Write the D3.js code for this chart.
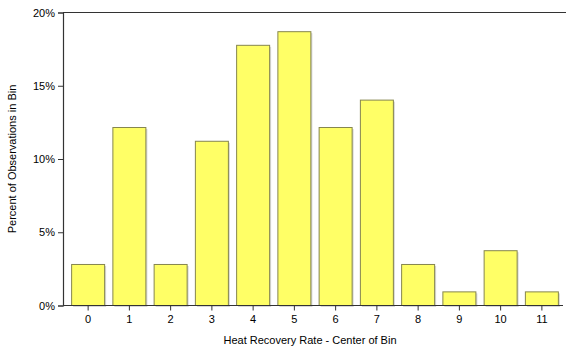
<!DOCTYPE html>
<html>
<head>
<meta charset="utf-8">
<script src="https://cdn.jsdelivr.net/npm/d3@7"></script>
<style>
  body { margin: 0; background: #fff; }
  svg { display: block; font-family: "Liberation Sans", Arial, sans-serif; }
</style>
</head>
<body>
<svg id="chart" width="566" height="349"></svg>
<script>
var bins = ["0", "1", "2", "3", "4", "5", "6", "7", "8", "9", "10", "11"]
var percents = [2.80, 12.15, 2.80, 11.21, 17.76, 18.69, 12.15, 14.02, 2.80, 0.93, 3.74, 0.93]
var yTicks = [0, 5, 10, 15, 20]

var width = 566, height = 349
var margin = { top: 12.5, bottom: 43.5, left: 63, right: 3 }

var svg = d3.select("#chart")

var xScale = d3.scaleBand()
    .domain(bins)
    .range([67.5, 562.5])
    .paddingInner(0.2)
    .paddingOuter(0.1)

var yScale = d3.scaleLinear()
    .domain([0, 20])
    .range([height - margin.bottom, margin.top])

// bars (with faint shadow)
svg.append("g")
    .selectAll("rect.shadow")
    .data(percents)
    .enter()
    .append("rect")
    .attr("x", (d, i) => xScale(bins[i]) + 1.5)
    .attr("y", d => yScale(d) + 1.5)
    .attr("width", xScale.bandwidth())
    .attr("height", d => yScale(0) - yScale(d))
    .style("fill", "#d8d8d8")

svg.append("g")
    .selectAll("rect.bar")
    .data(percents)
    .enter()
    .append("rect")
    .attr("x", (d, i) => xScale(bins[i]))
    .attr("y", d => yScale(d))
    .attr("width", xScale.bandwidth())
    .attr("height", d => yScale(0) - yScale(d))
    .style("fill", "#ffff66")
    .style("stroke", "#86864e")
    .style("stroke-width", 1)

// top border
svg.append("line")
    .attr("x1", margin.left).attr("x2", width)
    .attr("y1", yScale(20)).attr("y2", yScale(20))
    .style("stroke", "#333").style("stroke-width", 1.2)

var yAxis = svg.append("g")
    .attr("transform", "translate(" + margin.left + ",0)")
    .call(d3.axisLeft(yScale).tickValues(yTicks).tickSize(5).tickPadding(3).tickFormat(d => d + "%"))
yAxis.select(".domain").style("stroke", "#333").style("stroke-width", 1.2)
yAxis.selectAll("line").style("stroke", "#333")
yAxis.selectAll("text").style("font-size", "11px").style("fill", "#000")

var xAxis = svg.append("g")
    .attr("transform", "translate(0," + yScale(0) + ")")
    .call(d3.axisBottom(xScale).tickSize(5).tickSizeOuter(0).tickPadding(5))
xAxis.select(".domain").attr("d", "M" + margin.left + ",0H563").style("stroke", "#333").style("stroke-width", 1.2)
xAxis.selectAll("line").style("stroke", "#333")
xAxis.selectAll("text").style("font-size", "11px").style("fill", "#000")

svg.append("text")
    .attr("x", 310)
    .attr("y", 344)
    .style("text-anchor", "middle")
    .style("font-size", "11px")
    .text("Heat Recovery Rate - Center of Bin")

svg.append("text")
    .attr("transform", "translate(16," + 159 + ") rotate(-90)")
    .style("text-anchor", "middle")
    .style("font-size", "11px")
    .text("Percent of Observations in Bin")
</script>
</body>
</html>
